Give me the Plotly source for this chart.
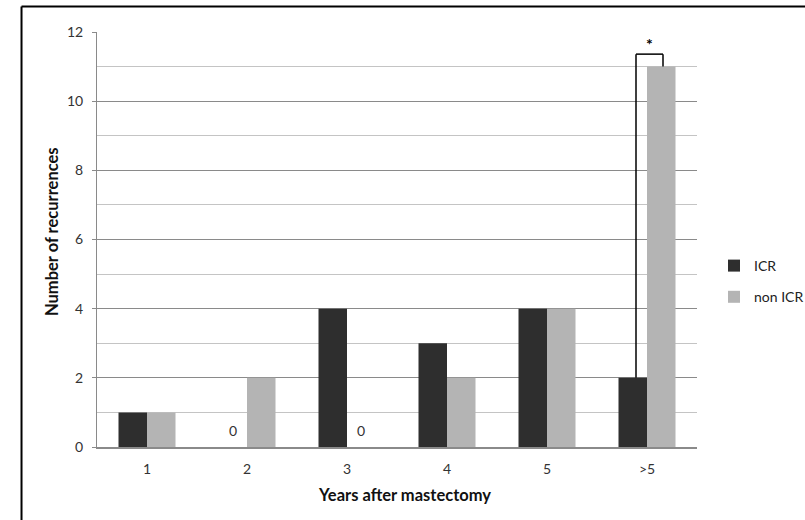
import plotly.graph_objects as go

categories = ["1", "2", "3", "4", "5", ">5"]
icr = [1, 0, 4, 3, 4, 2]
non_icr = [1, 2, 0, 2, 4, 11]
y_ticks = [0, 2, 4, 6, 8, 10, 12]

FONT = "Lato, 'Open Sans', sans-serif"
DARK = "#2e2e2e"
LIGHT = "#b4b4b4"
xs = list(range(len(categories)))
bar_off = 0.1425  # half of bar width (bargap 0.43, two bars per group)

fig = go.Figure()
fig.add_trace(go.Bar(x=xs, y=icr, name="ICR", marker=dict(color=DARK, line_width=0),
                     legendgroup="a"))
fig.add_trace(go.Bar(x=xs, y=non_icr, name="non ICR", marker=dict(color=LIGHT, line_width=0),
                     legendgroup="b"))

annotations = []
# zero value labels
for i, v in enumerate(icr):
    if v == 0:
        annotations.append(dict(x=i - bar_off, y=0.47, text="0", showarrow=False,
                                xanchor="center", yanchor="middle",
                                font=dict(size=14, color="#333", family=FONT)))
for i, v in enumerate(non_icr):
    if v == 0:
        annotations.append(dict(x=i + bar_off, y=0.47, text="0", showarrow=False,
                                xanchor="center", yanchor="middle",
                                font=dict(size=14, color="#333", family=FONT)))

# significance bracket on last category
last = len(categories) - 1
top = max(icr[last], non_icr[last]) + 0.36
xl = last - 0.11
xr = last + 0.16
shapes = [
    dict(type="line", xref="x", yref="y", x0=xl, x1=xl, y0=icr[last], y1=top,
         line=dict(color="black", width=1.5)),
    dict(type="line", xref="x", yref="y", x0=xl, x1=xr, y0=top, y1=top,
         line=dict(color="black", width=1.5)),
    dict(type="line", xref="x", yref="y", x0=xr, x1=xr, y0=top, y1=non_icr[last],
         line=dict(color="black", width=1.5)),
    # outer frame (left and top edges)
    dict(type="line", xref="paper", yref="paper", x0=-0.1258, x1=-0.1258, y0=1.0614, y1=-0.2,
         line=dict(color="black", width=2)),
    dict(type="line", xref="paper", yref="paper", x0=-0.1258, x1=1.2, y0=1.0614, y1=1.0614,
         line=dict(color="black", width=2)),
]
annotations.append(dict(x=(xl + xr) / 2, y=top + 0.32, text="<b>*</b>", showarrow=False,
                        xanchor="center", yanchor="middle",
                        font=dict(size=16, color="black", family=FONT)))

# axis titles
annotations.append(dict(xref="paper", yref="paper", x=(404 - 97) / 600, y=(447 - 495) / 415,
                        xanchor="center", yanchor="middle",
                        text="<b>Years after mastectomy</b>", showarrow=False,
                        font=dict(size=16.5, color="#111", family=FONT)))
annotations.append(dict(xref="paper", yref="paper", x=(52 - 97) / 600, y=(447 - 232) / 415,
                        xanchor="center", yanchor="middle",
                        text="<b>Number of recurrences</b>", showarrow=False, textangle=-90,
                        font=dict(size=16.5, color="#111", family=FONT)))

fig.update_layout(
    width=805, height=520,
    margin=dict(l=97, r=108, t=32, b=73),
    paper_bgcolor="white", plot_bgcolor="white",
    font=dict(family=FONT, size=14, color="#333"),
    barmode="group", bargap=0.43, bargroupgap=0,
    showlegend=True,
    legend=dict(xref="container", yref="container", x=714 / 805, y=1 - 250 / 520,
                xanchor="left", yanchor="top",
                font=dict(size=14, color="#222", family=FONT),
                tracegroupgap=10, bgcolor="rgba(0,0,0,0)"),
    xaxis=dict(range=[-0.5, 5.5], tickvals=xs, ticktext=categories, showgrid=False,
               zeroline=False, showline=True, linecolor="#8a8a8a", linewidth=1.5,
               ticks="", ticklabelstandoff=8, tickfont=dict(size=14, color="#333")),
    yaxis=dict(range=[0, 12], tickvals=y_ticks, showgrid=True, gridcolor="#8a8a8a",
               gridwidth=1, zeroline=False, showline=True, linecolor="#8a8a8a",
               linewidth=1, ticks="outside", ticklen=4, tickcolor="#8a8a8a",
               ticklabelstandoff=6, tickfont=dict(size=14, color="#333"),
               minor=dict(dtick=1, showgrid=True, gridcolor="#c4c4c4", gridwidth=1,
                          ticks="")),
    shapes=shapes, annotations=annotations,
)

fig.write_html("out.html", config={"displayModeBar": False},
               post_script="document.body.style.margin='0';document.body.style.overflow='hidden';")
